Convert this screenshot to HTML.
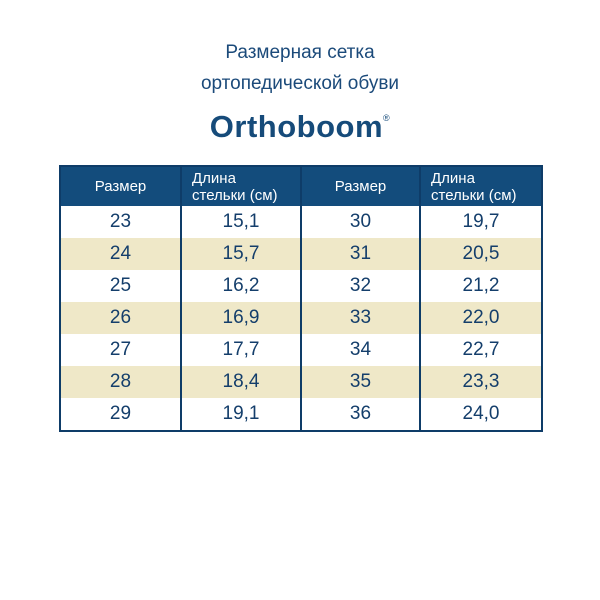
<!DOCTYPE html>
<html><head><meta charset="utf-8"><style>
body{margin:0;width:600px;height:600px;background:#fff;font-family:"Liberation Sans",sans-serif;color:#153d6a;position:relative;overflow:hidden}
.t{position:absolute;left:0;width:600px;text-align:center;font-size:19px;color:#1b4a7a}
.logo{position:absolute;top:109px;left:0;width:600px;text-align:center;font-size:31px;font-weight:bold;color:#164b7a;letter-spacing:0.5px}
.logo sup{font-size:9px;font-weight:normal;vertical-align:top;position:relative;top:4px}
table{position:absolute;left:59px;top:165px;border-collapse:collapse;border:2px solid #0e3c68}
td,th{border-left:2px solid #0e3c68;border-right:2px solid #0e3c68;padding:0;text-align:center}
th{background:#134c7c;color:#fff;font-weight:normal;font-size:15px;height:39px;line-height:17px}
th.l{text-align:left;padding-left:10px}
td{height:32px;font-size:19px;color:#143e6b}
tr.c td{background:#efe8c8}
</style></head><body>
<div class="t" style="top:42px">Размерная сетка</div>
<div class="t" style="top:73px">ортопедической обуви</div>
<div class="logo">Orthoboom<sup>®</sup></div>
<table>
<tr><th style="width:119px">Размер</th><th class="l" style="width:108px">Длина<br>стельки (см)</th><th style="width:117px">Размер</th><th class="l" style="width:110px">Длина<br>стельки (см)</th></tr>
<tr><td>23</td><td>15,1</td><td>30</td><td>19,7</td></tr>
<tr class="c"><td>24</td><td>15,7</td><td>31</td><td>20,5</td></tr>
<tr><td>25</td><td>16,2</td><td>32</td><td>21,2</td></tr>
<tr class="c"><td>26</td><td>16,9</td><td>33</td><td>22,0</td></tr>
<tr><td>27</td><td>17,7</td><td>34</td><td>22,7</td></tr>
<tr class="c"><td>28</td><td>18,4</td><td>35</td><td>23,3</td></tr>
<tr><td>29</td><td>19,1</td><td>36</td><td>24,0</td></tr>
</table>
</body></html>
